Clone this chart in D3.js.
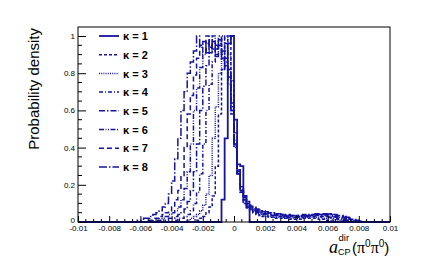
<!DOCTYPE html>
<html><head><meta charset="utf-8">
<script src="https://cdn.jsdelivr.net/npm/d3@7"></script>
<style>body{margin:0;background:#fff}svg{display:block}</style>
</head><body>
<svg id="c" width="434" height="271"></svg>
<script>
// ---- data ----
const binWidth = 0.0002;
const xRange = [-0.01, 0.01];
const xTicks = [-0.01,-0.008,-0.006,-0.004,-0.002,0,0.002,0.004,0.006,0.008,0.01];
const yTicks = [0,0.2,0.4,0.6,0.8,1];
const seriesNames = ["κ = 1","κ = 2","κ = 3","κ = 4","κ = 5","κ = 6","κ = 7","κ = 8"];
const seriesStart = [-0.0008,-0.0024,-0.0030,-0.0038,-0.0044,-0.0050,-0.0056,-0.0062];
const k1 = [0.12,0.45,0.96,1.0,0.55,0.31,0.30,0.14,0.08];
const k2 = [0.01,0.02,0.03,0.05,0.08,0.14,0.30,0.58,0.82,0.96,1.00,0.76,0.48,0.28,0.16,0.10,0.075,0.06,0.05,0.04,0.035,0.03,0.03,0.025,0.025,0.02,0.02,0.02,0.02,0.015,0.015,0.015,0.015,0.015,0.02,0.02,0.02,0.02,0.02,0.015,0.015,0.01,0.01,0.005];
const k3 = [0.01,0.02,0.03,0.04,0.06,0.09,0.15,0.25,0.45,0.62,0.80,0.92,1.00,0.90,0.68,0.44,0.26,0.16,0.10,0.08,0.065,0.055,0.045,0.04,0.035,0.035,0.03,0.03,0.025,0.025,0.025,0.02,0.02,0.02,0.02,0.02,0.02,0.025,0.025,0.025,0.025,0.025,0.025,0.02,0.02,0.02,0.015,0.01,0.01,0.005];
const k4 = [0.01,0.02,0.02,0.03,0.04,0.06,0.10,0.16,0.26,0.42,0.60,0.74,0.86,0.93,0.98,1.00,0.92,0.82,0.64,0.42,0.26,0.16,0.11,0.085,0.07,0.06,0.05,0.045,0.04,0.04,0.035,0.035,0.03,0.03,0.03,0.025,0.025,0.025,0.025,0.025,0.025,0.03,0.03,0.03,0.03,0.035,0.03,0.03,0.03,0.025,0.025,0.02,0.015,0.015,0.01,0.005];
const k5 = [0.01,0.02,0.02,0.03,0.04,0.05,0.07,0.11,0.17,0.27,0.42,0.60,0.73,0.84,0.91,0.97,0.93,1.00,0.92,0.88,0.80,0.62,0.41,0.26,0.17,0.12,0.09,0.075,0.065,0.055,0.05,0.045,0.045,0.04,0.04,0.035,0.035,0.03,0.03,0.03,0.03,0.025,0.03,0.03,0.03,0.03,0.035,0.035,0.035,0.04,0.035,0.035,0.03,0.03,0.025,0.02,0.02,0.015,0.01,0.005];
const k6 = [0.01,0.01,0.02,0.03,0.04,0.05,0.06,0.08,0.12,0.18,0.27,0.42,0.60,0.72,0.83,0.90,0.96,0.92,1.00,0.95,0.98,0.90,0.86,0.78,0.60,0.40,0.26,0.17,0.12,0.095,0.08,0.07,0.06,0.055,0.05,0.045,0.045,0.04,0.04,0.035,0.035,0.035,0.03,0.03,0.03,0.03,0.035,0.03,0.035,0.035,0.035,0.04,0.04,0.04,0.035,0.04,0.035,0.03,0.025,0.025,0.02,0.015,0.01,0.005];
const k7 = [0.01,0.01,0.02,0.02,0.03,0.04,0.05,0.06,0.08,0.12,0.17,0.25,0.40,0.58,0.68,0.79,0.88,0.95,0.91,1.00,0.94,0.97,0.90,0.96,0.88,0.84,0.76,0.58,0.40,0.27,0.18,0.13,0.10,0.085,0.075,0.065,0.06,0.055,0.05,0.05,0.045,0.04,0.04,0.04,0.035,0.035,0.035,0.03,0.035,0.03,0.035,0.035,0.035,0.04,0.04,0.045,0.04,0.04,0.045,0.04,0.035,0.03,0.03,0.025,0.02,0.015,0.01,0.005];
const k8 = [0.01,0.01,0.02,0.02,0.03,0.04,0.05,0.06,0.08,0.10,0.15,0.22,0.34,0.45,0.60,0.70,0.80,0.86,0.92,1.00,0.94,0.97,0.91,0.98,0.93,0.89,0.95,0.87,0.82,0.74,0.60,0.42,0.28,0.19,0.14,0.11,0.09,0.08,0.07,0.065,0.06,0.055,0.05,0.05,0.045,0.045,0.04,0.04,0.04,0.035,0.035,0.035,0.035,0.04,0.035,0.04,0.04,0.045,0.04,0.045,0.045,0.04,0.045,0.04,0.035,0.035,0.03,0.025,0.02,0.015,0.01,0.005];
const seriesValues = [k1,k2,k3,k4,k5,k6,k7,k8];

// ---- styles ----
const color = "#1414a0";
const dashes = [null,"3,2","1,1.2","4,2,1,2","6,2,1.5,2","5,1.5,1,1.5,1,1.5","5,3","8,2,1.5,2"];

const svg = d3.select("#c");
const L=78, R=390, T=27, B=222;
const x = d3.scaleLinear().domain(xRange).range([L,R]);
const y = d3.scaleLinear().domain([0,(B-T)/186]).range([B,T]);

// histograms
const nBins = Math.round((xRange[1]-xRange[0])/binWidth);
const edges = d3.range(nBins+1).map(i => xRange[0]+i*binWidth);
const line = d3.line().x(d=>x(d[0])).y(d=>y(d[1])).curve(d3.curveStepAfter);
for (let s=7; s>=0; s--) {
  const full = new Array(nBins).fill(0);
  const i0 = Math.round((seriesStart[s]-xRange[0])/binWidth);
  seriesValues[s].forEach((v,j)=>{ full[i0+j]=v; });
  const pts = full.map((v,i)=>[edges[i],v]);
  pts.push([xRange[1], full[nBins-1]]);
  svg.append("path").attr("d", line(pts)).attr("fill","none")
    .attr("stroke",color).attr("stroke-width", s===0?1.8:1.5)
    .attr("stroke-dasharray", dashes[s]);
}

// frame
svg.append("rect").attr("x",L).attr("y",T).attr("width",R-L).attr("height",B-T)
  .attr("fill","none").attr("stroke","#000").attr("stroke-width",1);

const fmt = v => v===0 ? "0" : String(+v.toFixed(3));
// x axis
const xa = svg.append("g").attr("transform",`translate(0,${B})`)
  .call(d3.axisBottom(x).tickValues(xTicks).tickSize(-6).tickSizeOuter(0).tickPadding(3).tickFormat(fmt));
const xMinor = d3.range(-0.01, 0.01001, 0.0005).filter(v=>Math.abs(v/0.002-Math.round(v/0.002))>1e-6);
xa.selectAll(".minor").data(xMinor).enter().append("line").attr("class","minor")
  .attr("x1",d=>x(d)).attr("x2",d=>x(d)).attr("y1",0).attr("y2",-3).attr("stroke","#000");
// y axis
const ya = svg.append("g").attr("transform",`translate(${L},0)`)
  .call(d3.axisLeft(y).tickValues(yTicks).tickSize(-8).tickSizeOuter(0).tickPadding(3).tickFormat(fmt));
const yMinor = d3.range(0, 1.0001, 0.05).filter(v=>Math.abs(v/0.2-Math.round(v/0.2))>1e-6);
ya.selectAll(".minor").data(yMinor).enter().append("line").attr("class","minor")
  .attr("y1",d=>y(d)).attr("y2",d=>y(d)).attr("x1",0).attr("x2",4).attr("stroke","#000");
svg.selectAll(".domain").remove();
svg.selectAll(".tick text").attr("font-family","'Liberation Sans', Arial, sans-serif").attr("font-size",8).attr("fill","#000");
ya.selectAll(".tick text").filter(d=>d===0).attr("dy","0");

// legend
seriesNames.forEach((n,i)=>{
  const ly = 36 + i*18.7;
  svg.append("line").attr("x1",99).attr("x2",119).attr("y1",ly).attr("y2",ly)
    .attr("stroke",color).attr("stroke-width", i===0?1.8:1.5).attr("stroke-dasharray",dashes[i]);
  svg.append("text").attr("x",123).attr("y",ly+4.2).text(n)
    .attr("font-family","'Liberation Sans', Arial, sans-serif").attr("font-weight","bold").attr("font-size",11);
});

// y title
svg.append("text").attr("transform","translate(39,28) rotate(-90)").attr("text-anchor","end")
  .attr("font-family","'Liberation Sans', Arial, sans-serif").attr("font-size",15).text("Probability density");

// x title
const tf = "'Liberation Sans', Arial, sans-serif";
svg.append("text").attr("x",329).attr("y",253).attr("font-family","'Liberation Serif', serif")
  .attr("font-style","italic").attr("font-size",18).text("a");
svg.append("text").attr("x",338.5).attr("y",241).attr("font-family",tf).attr("font-size",9.5).text("dir");
svg.append("text").attr("x",338).attr("y",255).attr("font-family",tf).attr("font-size",9).text("CP");
const t = svg.append("text").attr("x",352).attr("y",253).attr("font-family",tf).attr("font-size",15);
t.append("tspan").text("(");
t.append("tspan").attr("font-family","'Liberation Serif', serif").attr("font-size",16).text("π");
t.append("tspan").attr("font-size",10).attr("dy",-6).text("0");
t.append("tspan").attr("font-family","'Liberation Serif', serif").attr("font-size",16).attr("dy",6).text("π");
t.append("tspan").attr("font-size",10).attr("dy",-6).text("0");
t.append("tspan").attr("dy",6).text(")");
</script>
</body></html>
